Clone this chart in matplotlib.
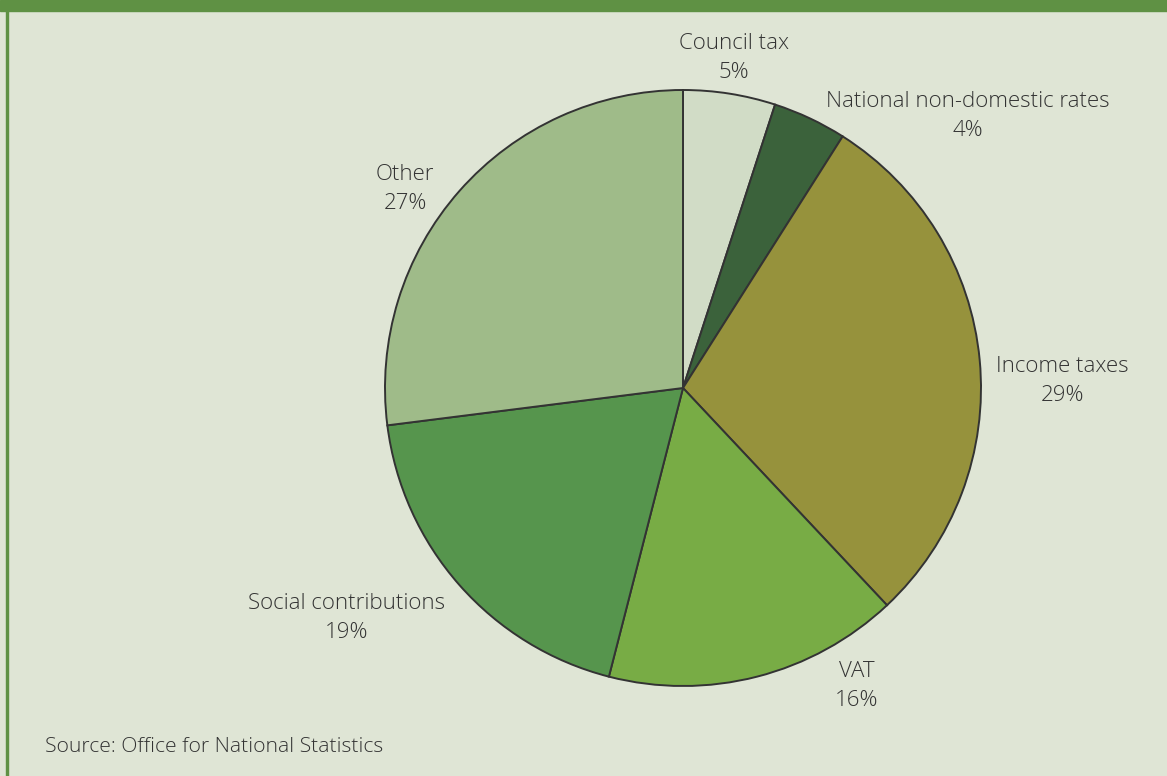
import matplotlib.pyplot as plt
from matplotlib.patches import Rectangle

plt.rcParams['font.family'] = ['Open Sans', 'DejaVu Sans']

# UK government receipts by source
categories = ['Council tax', 'National non-domestic rates', 'Income taxes',
              'VAT', 'Social contributions', 'Other']
shares = [5, 4, 29, 16, 19, 27]
colors = ['#d1dcc6', '#3b623b', '#96923c', '#78ac45', '#56954d', '#9fbb89']

# label anchor points (figure pixels, y from top)
label_pos = [(734, 58), (968, 116), (1062, 381), (857, 686), (347, 618), (405, 189)]

W, H = 1167, 776
BG = '#dfe5d5'
GREEN = '#5f9144'
TEXT = '#333333'

fig = plt.figure(figsize=(W / 100, H / 100), dpi=100, facecolor=BG)
ax = fig.add_axes([0, 0, 1, 1])
ax.set_facecolor(BG)

# header band and left rule
ax.add_patch(Rectangle((0, H - 11), W, 11, color=GREEN, zorder=5))
ax.add_patch(Rectangle((6, 0), 2, H - 11, color=GREEN, zorder=5))

ax.pie(shares, colors=colors, startangle=90, counterclock=False,
       center=(683, H - 388), radius=298, frame=True,
       wedgeprops=dict(edgecolor='#333333', linewidth=1.4))
ax.set_xlim(0, W)
ax.set_ylim(0, H)
ax.set_aspect('auto')
ax.axis('off')

for name, val, (x, y) in zip(categories, shares, label_pos):
    ax.text(x, H - y, f'{name}\n{val}%', ha='center', va='center',
            fontsize=16, fontweight='light', color=TEXT, linespacing=1.45)

ax.text(45, H - 747, 'Source: Office for National Statistics', ha='left',
        va='center', fontsize=15.2, fontweight='light', color=TEXT)

fig.savefig('out.png', dpi=100, facecolor=BG)
